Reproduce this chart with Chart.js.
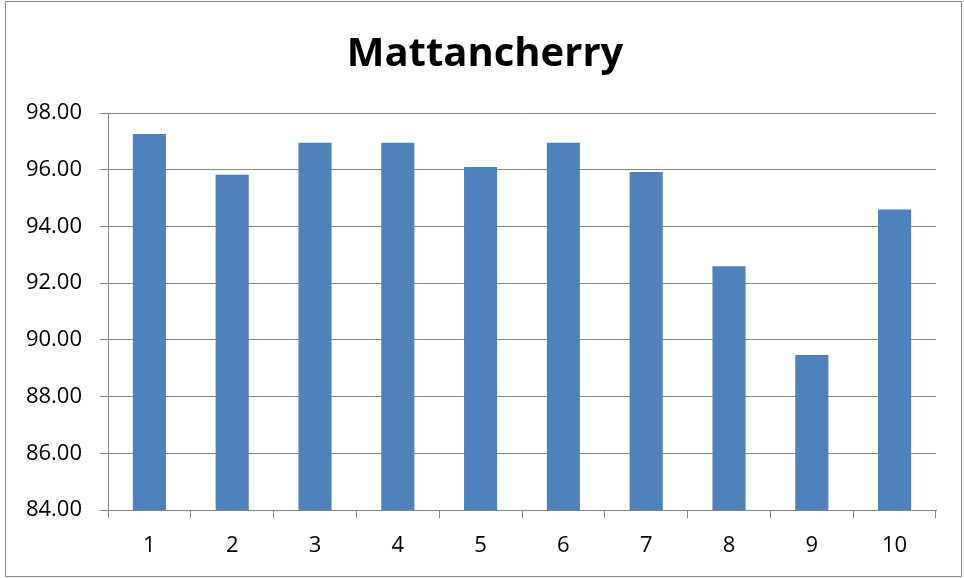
<!DOCTYPE html>
<html lang="en">
<head>
  <meta charset="UTF-8">
  <title>Mattancherry</title>
  <script src="https://cdn.jsdelivr.net/npm/chart.js"></script>
  <style>
    body {
      margin: 0;
      background: #fff;
    }

    #wrap {
      width: 964px;
      height: 578px;
    }
  </style>
</head>
<body>
  <div id="wrap">
    <canvas id="barChart" width="964" height="578"></canvas>
  </div>

  <script>
    const categories = ['1', '2', '3', '4', '5', '6', '7', '8', '9', '10'];
    const values = [97.26, 95.82, 96.95, 96.95, 96.10, 96.95, 95.92, 92.60, 89.47, 94.60];
    const yTicks = [84, 86, 88, 90, 92, 94, 96, 98];

    const gridGray = '#868686';

    // white background + thin outer frame like the Excel chart area
    const frame = {
      id: 'frame',
      afterLayout(chart) {
        // the original title sits a bit right of the canvas centre
        if (chart.titleBlock) {
          chart.titleBlock.left = 34;
          chart.titleBlock.right = 936;
        }
      },
      beforeDraw(chart) {
        const ctx = chart.ctx;
        ctx.save();
        ctx.fillStyle = '#fff';
        ctx.fillRect(0, 0, chart.width, chart.height);
        ctx.strokeStyle = '#888';
        ctx.lineWidth = 1;
        ctx.strokeRect(5.5, 1.5, chart.width - 8, chart.height - 3);
        ctx.restore();
      }
    };

    const chartCtx = document.getElementById('barChart').getContext('2d');

    new Chart(chartCtx, {
      type: 'bar',
      data: {
        labels: categories,
        datasets: [{
          data: values,
          backgroundColor: '#4f81bd',
          borderWidth: 0,
          barPercentage: 0.4,
          categoryPercentage: 1.0
        }]
      },
      options: {
        responsive: false,
        animation: false,
        layout: {
          padding: { left: 0, right: 28, top: 0, bottom: 0 }
        },
        plugins: {
          legend: { display: false },
          tooltip: { enabled: false },
          title: {
            display: true,
            text: 'Mattancherry',
            color: '#000',
            font: { family: 'Open Sans', size: 40, weight: 'bold', lineHeight: 1.2 },
            padding: { top: 31, bottom: 34 }
          }
        },
        scales: {
          y: {
            min: 84,
            max: 98,
            afterFit(scale) { scale.width = 108; },
            afterBuildTicks(scale) { scale.ticks = yTicks.map(v => ({ value: v })); },
            ticks: {
              color: '#000',
              padding: 18,
              font: { family: 'Open Sans', size: 22 },
              callback: v => Number(v).toFixed(2)
            },
            grid: {
              color: gridGray,
              lineWidth: 1,
              tickLength: 8
            },
            border: { color: gridGray, width: 1 }
          },
          x: {
            afterFit(scale) { scale.height = 68; },
            ticks: {
              color: '#000',
              padding: 15,
              font: { family: 'Open Sans', size: 22 }
            },
            grid: {
              offset: true,
              drawOnChartArea: false,
              color: gridGray,
              tickLength: 8
            },
            border: { color: gridGray, width: 1 }
          }
        }
      },
      plugins: [frame]
    });
  </script>
</body>
</html>
